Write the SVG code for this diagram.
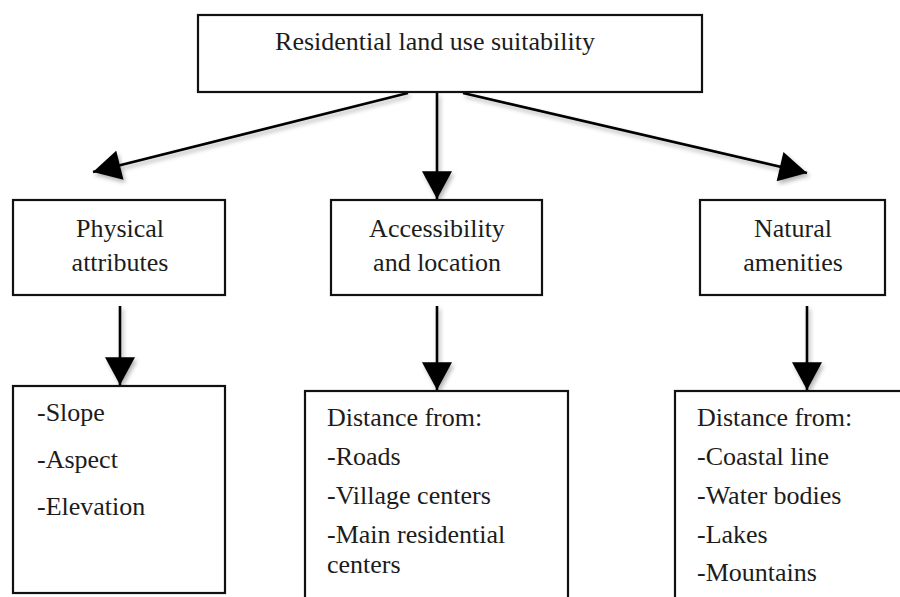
<svg xmlns="http://www.w3.org/2000/svg" width="900" height="597" viewBox="0 0 900 597">
<style>
.box{fill:#fff;stroke:#111;stroke-width:2.2}
.t{font-family:"Liberation Serif","Times New Roman",serif;font-size:26px;fill:#1c1c1c}
.c{text-anchor:middle}
.conn{stroke:#000;stroke-width:2.6;fill:none}
</style>
<defs>
<marker id="ah" markerUnits="userSpaceOnUse" markerWidth="30" markerHeight="30" viewBox="0 0 24 26" refX="24" refY="13" orient="auto">
<path d="M0,0 L24,13 L0,26 Z" fill="#000"/>
</marker>
<filter id="sh" x="-20%" y="-20%" width="140%" height="140%">
<feDropShadow dx="2" dy="3" stdDeviation="2" flood-color="#000" flood-opacity="0.3"/>
</filter>
</defs>
<rect width="900" height="597" fill="#fff"/>
<g id="connectors" filter="url(#sh)">
<line class="conn" x1="408" y1="93" x2="93" y2="172" marker-end="url(#ah)"/>
<line class="conn" x1="437" y1="93" x2="437" y2="199" marker-end="url(#ah)"/>
<line class="conn" x1="463" y1="93" x2="807" y2="173" marker-end="url(#ah)"/>
<line class="conn" x1="120" y1="306" x2="120" y2="385" marker-end="url(#ah)"/>
<line class="conn" x1="437" y1="306" x2="437" y2="390" marker-end="url(#ah)"/>
<line class="conn" x1="807" y1="306" x2="807" y2="390" marker-end="url(#ah)"/>
</g>
<g id="root">
<rect class="box" x="198" y="15" width="504" height="77"/>
<text class="t c" x="435" y="50">Residential land use suitability</text>
</g>
<g id="physical">
<rect class="box" x="13" y="200" width="212" height="95"/>
<text class="t c" x="120" y="237">Physical</text>
<text class="t c" x="120" y="271">attributes</text>
</g>
<g id="accessibility">
<rect class="box" x="331" y="200" width="211" height="95"/>
<text class="t c" x="437" y="237">Accessibility</text>
<text class="t c" x="437" y="271">and location</text>
</g>
<g id="natural">
<rect class="box" x="700" y="200" width="185" height="95"/>
<text class="t c" x="793" y="237">Natural</text>
<text class="t c" x="793" y="271">amenities</text>
</g>
<g id="physical-list">
<rect class="box" x="13" y="386" width="212" height="207"/>
<text class="t" x="37" y="421">-Slope</text>
<text class="t" x="37" y="468">-Aspect</text>
<text class="t" x="37" y="515">-Elevation</text>
</g>
<g id="accessibility-list">
<rect class="box" x="305" y="391" width="263" height="230"/>
<text class="t" x="327" y="426">Distance from:</text>
<text class="t" x="327" y="465">-Roads</text>
<text class="t" x="327" y="504">-Village centers</text>
<text class="t" x="327" y="543">-Main residential</text>
<text class="t" x="327" y="573">centers</text>
</g>
<g id="natural-list">
<rect class="box" x="675" y="391" width="240" height="230"/>
<text class="t" x="697" y="426">Distance from:</text>
<text class="t" x="697" y="465">-Coastal line</text>
<text class="t" x="697" y="504">-Water bodies</text>
<text class="t" x="697" y="543">-Lakes</text>
<text class="t" x="697" y="581">-Mountains</text>
</g>
</svg>
